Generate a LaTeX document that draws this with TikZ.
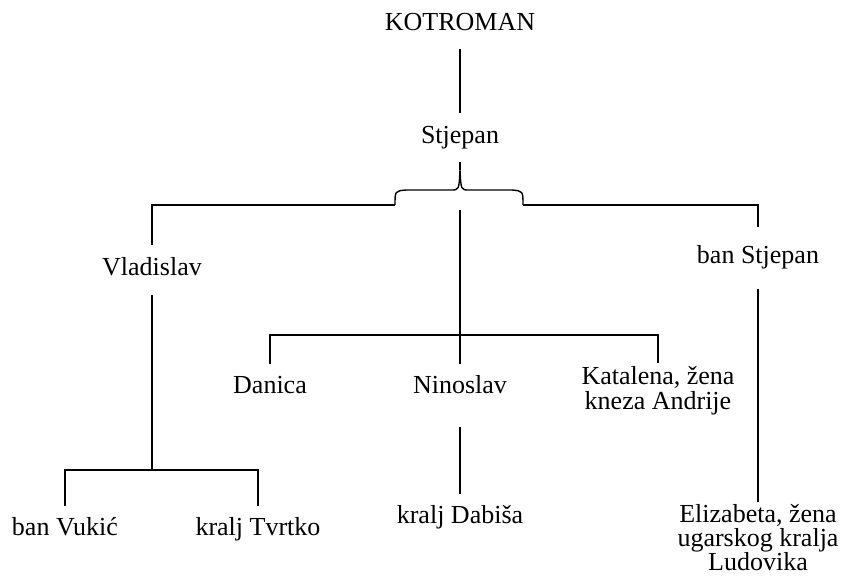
\documentclass[tikz,border=0pt]{standalone}
\usepackage{fontspec}
\setmainfont{Liberation Serif}
\usetikzlibrary{positioning}

\begin{document}
\begin{tikzpicture}[x=1pt,y=-1pt,line width=1.4pt,
  every node/.style={font=\fontsize{26}{25}\selectfont,inner sep=0pt,outer sep=13pt,align=center},
  osoba/.style={text height=17pt,text depth=6pt}]
\useasboundingbox (0,0) rectangle (841,580);

\node[osoba] (kotroman) at (460,25) {KOTROMAN};
\node[osoba] (stjepan) at (460,138) {Stjepan};
\node[osoba] (vladislav) at (152,270) {Vladislav};
\node[osoba] (banstjepan) at (758,258) {ban Stjepan};
\node[osoba] (danica) at (270,388) {Danica};
\node[osoba] (ninoslav) at (460,388) {Ninoslav};
\node[outer sep=4pt] (katalena) at (658,391) {Katalena, žena\\kneza Andrije};
\node[osoba] (vukic) at (65,530) {ban Vukić};
\node[osoba] (tvrtko) at (258,530) {kralj Tvrtko};
\node[osoba] (dabisa) at (460,518) {kralj Dabiša};
\node[outer sep=3pt,font=\fontsize{26}{24}\selectfont] (elizabeta) at (758,538) {Elizabeta, žena\\ugarskog kralja\\Ludovika};

\coordinate (tip) at (460,170);
\coordinate (bl) at (395,205);
\coordinate (br) at (523,205);
\coordinate (trunk) at (460,210);
\coordinate (fork) at (460,335);
\coordinate (vfork) at (152,470);

\foreach \a/\b in {kotroman/stjepan,stjepan/tip,trunk/fork,fork/ninoslav,vladislav/vfork}
	\draw (\a)--(\b);
\draw[shorten <=14pt] (ninoslav)--(dabisa);
\draw[shorten <=6pt] (banstjepan.south) -- (banstjepan.south |- elizabeta.north);

% brace under Stjepan
\draw (bl) .. controls (395,191) .. (406,190) -- (451,190) .. controls (459,190) .. (tip)
	.. controls (461,190) .. (469,190) -- (512,190) .. controls (523,191) .. (br);

\draw (vladislav) |- (bl);
\draw[shorten <=6pt] (banstjepan) |- (br);
\draw (danica) |- (fork) -| (katalena);
\draw (vukic) |- (vfork) -| (tvrtko);

\end{tikzpicture}
\end{document}
